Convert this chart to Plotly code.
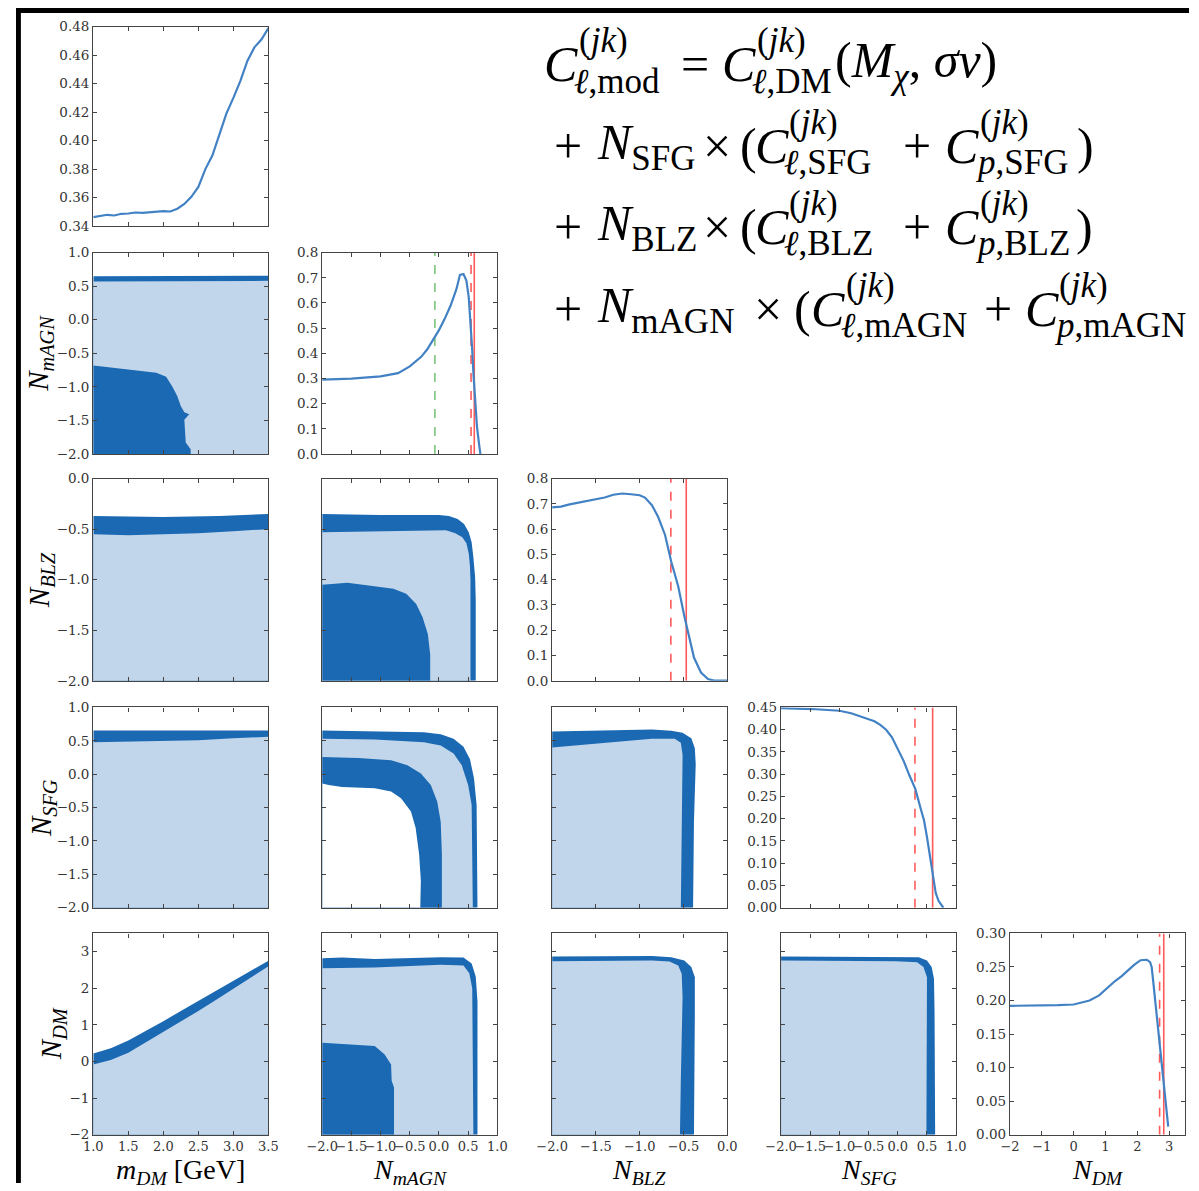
import plotly.graph_objects as go

W, H = 1199, 1191

# ---------------- 1D profile data ----------------
MDM_X = [1.0, 1.1, 1.2, 1.3, 1.4, 1.5, 1.6, 1.7, 1.8, 1.9, 2.0, 2.1, 2.2, 2.3, 2.4, 2.5,
         2.6, 2.7, 2.8, 2.9, 3.0, 3.1, 3.2, 3.3, 3.4, 3.5]
MDM_Y = [0.3463, 0.3470, 0.3479, 0.3474, 0.3486, 0.3488, 0.3495, 0.3492, 0.3497, 0.3500,
         0.3504, 0.3502, 0.3522, 0.3555, 0.3605, 0.3675, 0.3800, 0.3895, 0.4050, 0.4190,
         0.4300, 0.4420, 0.4560, 0.4655, 0.4710, 0.4790]

MAGN_X = [-2.0, -1.5, -1.0, -0.7, -0.5, -0.3, -0.2, -0.1, 0.0, 0.1, 0.2, 0.3, 0.36, 0.42,
          0.47, 0.51, 0.54, 0.57, 0.59, 0.62, 0.65, 0.69, 0.71]
MAGN_Y = [0.295, 0.299, 0.308, 0.321, 0.348, 0.387, 0.416, 0.452, 0.492, 0.538, 0.590,
          0.656, 0.712, 0.715, 0.689, 0.623, 0.531, 0.413, 0.321, 0.216, 0.111, 0.033, 0.0]
MAGN_GREEN = -0.07
MAGN_RED_DASH = 0.55
MAGN_RED = 0.605

BLZ_X = [-2.0, -1.9, -1.8, -1.7, -1.6, -1.5, -1.4, -1.3, -1.2, -1.1, -1.0, -0.94, -0.86,
         -0.79, -0.71, -0.64, -0.56, -0.49, -0.43, -0.38, -0.30, -0.22, -0.15, 0.0]
BLZ_Y = [0.686, 0.689, 0.698, 0.705, 0.712, 0.717, 0.725, 0.736, 0.741, 0.738, 0.734,
         0.725, 0.695, 0.649, 0.577, 0.472, 0.374, 0.256, 0.164, 0.092, 0.033, 0.007,
         0.001, 0.001]
BLZ_RED_DASH = -0.644
BLZ_RED = -0.468

SFG_X = [-2.0, -1.8, -1.6, -1.4, -1.2, -1.0, -0.8, -0.6, -0.4, -0.3, -0.2, -0.1, 0.0, 0.1,
         0.2, 0.3, 0.4, 0.45, 0.5, 0.55, 0.6, 0.65, 0.7, 0.75, 0.78]
SFG_Y = [0.4485, 0.4485, 0.447, 0.446, 0.4448, 0.4426, 0.437, 0.428, 0.419, 0.411, 0.400,
         0.383, 0.356, 0.330, 0.297, 0.267, 0.219, 0.196, 0.159, 0.115, 0.067, 0.033,
         0.015, 0.005, 0.0]
SFG_RED_DASH = 0.294
SFG_RED = 0.597

NDM_X = [-2.0, -1.0, -0.5, 0.0, 0.3, 0.5, 0.8, 1.0, 1.3, 1.5, 1.7, 1.9, 2.1, 2.3, 2.4,
         2.45, 2.5, 2.6, 2.7, 2.8, 2.9, 2.97]
NDM_Y = [0.192, 0.192, 0.193, 0.194, 0.197, 0.200, 0.2076, 0.2164, 0.229, 0.236, 0.2445,
         0.253, 0.260, 0.2607, 0.257, 0.250, 0.228, 0.182, 0.137, 0.091, 0.046, 0.012]
NDM_RED_DASH = 2.70
NDM_RED = 2.83

# ---------------- 2D credible-region boundaries ----------------
R1C0_TOP_X = [1.0, 2.0, 3.0, 3.5]
R1C0_TOP_Y = [0.65, 0.65, 0.655, 0.655]
R1C0_BOT_X = [1.0, 2.0, 3.0, 3.5]
R1C0_BOT_Y = [0.57, 0.57, 0.575, 0.58]
R1C0_CORE_X = [1.0, 1.15, 1.3, 1.45, 1.6, 1.75, 1.9, 2.04, 2.13, 2.2, 2.25, 2.3, 2.37,
               2.3, 2.31, 2.32, 2.39, 2.39]
R1C0_CORE_Y = [-0.68, -0.70, -0.71, -0.73, -0.76, -0.78, -0.79, -0.85, -1.0, -1.14,
               -1.29, -1.38, -1.41, -1.49, -1.68, -1.83, -1.93, -2.0]

R2C0_TOP_X = [1.0, 2.0, 2.8, 3.2, 3.5]
R2C0_TOP_Y = [-0.37, -0.38, -0.37, -0.36, -0.35]
R2C0_BOT_X = [1.0, 1.5, 2.0, 2.5, 3.0, 3.5]
R2C0_BOT_Y = [-0.55, -0.56, -0.55, -0.54, -0.52, -0.50]

R3C0_TOP_X = [1.0, 2.0, 3.0, 3.5]
R3C0_TOP_Y = [0.655, 0.655, 0.655, 0.655]
R3C0_BOT_X = [1.0, 1.5, 2.0, 2.5, 3.0, 3.5]
R3C0_BOT_Y = [0.48, 0.49, 0.49, 0.51, 0.54, 0.56]

R4C0_TOP_X = [1.0, 1.25, 1.5, 1.75, 2.0, 2.25, 2.5, 2.75, 3.0, 3.25, 3.5]
R4C0_TOP_Y = [0.22, 0.36, 0.57, 0.83, 1.10, 1.38, 1.66, 1.94, 2.22, 2.48, 2.75]
R4C0_BOT_X = [1.0, 1.25, 1.5, 1.75, 2.0, 2.25, 2.5, 2.75, 3.0, 3.25, 3.5]
R4C0_BOT_Y = [-0.08, 0.04, 0.24, 0.52, 0.82, 1.10, 1.38, 1.68, 1.98, 2.30, 2.60]

R2C1_OUT_X = [-2.0, -1.0, 0.0, 0.17, 0.32, 0.43, 0.51, 0.56, 0.59, 0.62, 0.63, 0.63]
R2C1_OUT_Y = [-0.35, -0.36, -0.36, -0.37, -0.40, -0.45, -0.53, -0.63, -0.78, -0.98, -1.2, -2.0]
R2C1_IN_X = [-2.0, -1.0, 0.12, 0.28, 0.40, 0.47, 0.51, 0.53, 0.54, 0.54]
R2C1_IN_Y = [-0.53, -0.52, -0.51, -0.54, -0.58, -0.64, -0.74, -0.86, -1.0, -2.0]
R2C1_CORE_X = [-2.0, -1.57, -1.17, -0.78, -0.56, -0.39, -0.28, -0.19, -0.15, -0.15]
R2C1_CORE_Y = [-1.05, -1.03, -1.06, -1.09, -1.14, -1.24, -1.37, -1.54, -1.74, -2.0]

R3C1_OUT_X = [-2.0, -1.1, -0.26, 0.03, 0.25, 0.42, 0.53, 0.60, 0.645, 0.66]
R3C1_OUT_Y = [0.654, 0.644, 0.63, 0.60, 0.53, 0.41, 0.23, -0.06, -0.46, -2.0]
R3C1_IN_X = [-2.0, -1.1, -0.26, 0.03, 0.25, 0.39, 0.50, 0.56, 0.58]
R3C1_IN_Y = [0.53, 0.52, 0.48, 0.43, 0.31, 0.135, -0.16, -0.46, -2.0]
R3C1_CORE_OUT_X = [-2.0, -1.38, -0.82, -0.54, -0.31, -0.14, -0.03, 0.03, 0.05, 0.05]
R3C1_CORE_OUT_Y = [0.26, 0.244, 0.21, 0.135, 0.01, -0.16, -0.41, -0.71, -1.2, -2.0]
R3C1_CORE_IN_X = [-2.0, -1.89, -1.66, -1.1, -0.82, -0.65, -0.48, -0.40, -0.34, -0.31, -0.32]
R3C1_CORE_IN_Y = [-0.14, -0.16, -0.19, -0.21, -0.26, -0.36, -0.56, -0.80, -1.2, -1.59, -2.0]

R4C1_OUT_X = [-2.0, -1.66, -1.1, -0.54, 0.03, 0.42, 0.56, 0.63, 0.66, 0.66]
R4C1_OUT_Y = [2.82, 2.84, 2.80, 2.82, 2.85, 2.84, 2.68, 2.32, 1.64, -2.0]
R4C1_IN_X = [-2.0, -1.1, 0.03, 0.42, 0.52, 0.57, 0.59]
R4C1_IN_Y = [2.55, 2.57, 2.64, 2.62, 2.41, 2.0, -2.0]
R4C1_CORE_X = [-2.0, -1.38, -1.1, -0.93, -0.82, -0.81, -0.77, -0.77]
R4C1_CORE_Y = [0.51, 0.46, 0.42, 0.19, -0.08, -0.53, -0.71, -2.0]

R3C2_OUT_X = [-2.0, -1.43, -0.86, -0.64, -0.51, -0.41, -0.37, -0.36, -0.38, -0.39]
R3C2_OUT_Y = [0.64, 0.66, 0.67, 0.65, 0.62, 0.54, 0.39, 0.15, -0.7, -2.0]
R3C2_IN_X = [-2.0, -1.43, -0.86, -0.60, -0.53, -0.51, -0.52, -0.53]
R3C2_IN_Y = [0.40, 0.47, 0.53, 0.53, 0.47, 0.29, -0.7, -2.0]

R4C2_OUT_X = [-2.0, -1.43, -0.86, -0.64, -0.49, -0.41, -0.37, -0.37, -0.38, -0.38]
R4C2_OUT_Y = [2.87, 2.88, 2.88, 2.85, 2.76, 2.58, 2.30, 1.31, -0.5, -2.0]
R4C2_IN_X = [-2.0, -0.86, -0.66, -0.56, -0.52, -0.51, -0.53, -0.54]
R4C2_IN_Y = [2.74, 2.76, 2.73, 2.62, 2.40, 1.76, -0.5, -2.0]

R4C3_OUT_X = [-2.0, -1.15, -0.03, 0.36, 0.50, 0.58, 0.62, 0.63, 0.64]
R4C3_OUT_Y = [2.87, 2.87, 2.85, 2.85, 2.76, 2.58, 2.26, 1.31, -2.0]
R4C3_IN_X = [-2.0, -1.15, -0.03, 0.33, 0.44, 0.50, 0.50, 0.49]
R4C3_IN_Y = [2.76, 2.76, 2.74, 2.71, 2.58, 2.30, 1.31, -2.0]

# ---------------- axes / ticks ----------------
PARAM_RANGES = [[1.0, 3.5], [-2.0, 1.0], [-2.0, 0.0], [-2.0, 1.0], [-2.0, 3.5]]
PARAM_TICKS = [
    [1.0, 1.5, 2.0, 2.5, 3.0, 3.5],
    [-2.0, -1.5, -1.0, -0.5, 0.0, 0.5, 1.0],
    [-2.0, -1.5, -1.0, -0.5, 0.0],
    [-2.0, -1.5, -1.0, -0.5, 0.0, 0.5, 1.0],
    [-2, -1, 0, 1, 2, 3],
]
PARAM_FMT = ["{:.1f}", "{:.1f}", "{:.1f}", "{:.1f}", "{:d}"]
DIAG_RANGES = [[0.34, 0.48], [0.0, 0.8], [0.0, 0.8], [0.0, 0.45], [0.0, 0.30]]
DIAG_TICKS = [
    [0.34, 0.36, 0.38, 0.40, 0.42, 0.44, 0.46, 0.48],
    [0.0, 0.1, 0.2, 0.3, 0.4, 0.5, 0.6, 0.7, 0.8],
    [0.0, 0.1, 0.2, 0.3, 0.4, 0.5, 0.6, 0.7, 0.8],
    [0.00, 0.05, 0.10, 0.15, 0.20, 0.25, 0.30, 0.35, 0.40, 0.45],
    [0.00, 0.05, 0.10, 0.15, 0.20, 0.25, 0.30],
]
DIAG_FMT = ["{:.2f}", "{:.1f}", "{:.1f}", "{:.2f}", "{:.2f}"]
X_TITLES = ["<i>m</i><sub><i>DM</i></sub> [GeV]", "<i>N</i><sub><i>mAGN</i></sub>",
            "<i>N</i><sub><i>BLZ</i></sub>", "<i>N</i><sub><i>SFG</i></sub>",
            "<i>N</i><sub><i>DM</i></sub>"]
Y_TITLES = [None, "<i>N</i><sub><i>mAGN</i></sub>", "<i>N</i><sub><i>BLZ</i></sub>",
            "<i>N</i><sub><i>SFG</i></sub>", "<i>N</i><sub><i>DM</i></sub>"]

# ---------------- styling ----------------
COLS_PX = [(79, 258), (313, 492), (548, 727), (782, 961), (1016, 1195)]
ROWS_PX = [(19, 221), (248, 452), (477, 682), (709, 912), (938, 1142)]
DARK = "#1b69b3"
LIGHT = "#c2d6eb"
LINE = "#4282c4"
RED = "rgba(255,60,60,0.85)"
GREEN = "rgba(100,185,100,0.85)"
FRAME = "#444444"
XTICKFONT = dict(family="DejaVu Serif", size=13, color="#333333")
YTICKFONT = dict(family="DejaVu Serif", size=13.5, color="#333333")
SERIF = "Liberation Serif"


def fmt(v, f):
    return f.format(v).replace("-", "\u2212")


fig = go.Figure()
layout = {}
axis_id = {}
k = 0
for r in range(5):
    for c in range(r + 1):
        k += 1
        axis_id[(r, c)] = k
        xa = dict(
            domain=[COLS_PX[c][0] / W, COLS_PX[c][1] / W],
            anchor="y%d" % k, range=PARAM_RANGES[c],
            tickmode="array", tickvals=PARAM_TICKS[c],
            ticktext=[fmt(v, PARAM_FMT[c]) for v in PARAM_TICKS[c]],
            showticklabels=(r == 4), tickangle=0,
            ticks="inside", ticklen=4, tickcolor=FRAME, tickwidth=1,
            showline=True, linecolor=FRAME, linewidth=1.3, mirror="ticks",
            showgrid=False, zeroline=False, tickfont=XTICKFONT,
        )
        if c == r:
            yr, yt, yf = DIAG_RANGES[r], DIAG_TICKS[r], DIAG_FMT[r]
        else:
            yr, yt, yf = PARAM_RANGES[r], PARAM_TICKS[r], PARAM_FMT[r]
        ya = dict(
            domain=[1 - ROWS_PX[r][1] / H, 1 - ROWS_PX[r][0] / H],
            anchor="x%d" % k, range=yr,
            tickmode="array", tickvals=yt,
            ticktext=[fmt(v, yf) for v in yt],
            showticklabels=(c == 0 or c == r),
            ticks="inside", ticklen=4, tickcolor=FRAME, tickwidth=1,
            showline=True, linecolor=FRAME, linewidth=1.3, mirror="ticks",
            showgrid=False, zeroline=False, tickfont=YTICKFONT,
        )
        layout["xaxis" if k == 1 else "xaxis%d" % k] = xa
        layout["yaxis" if k == 1 else "yaxis%d" % k] = ya


def ax(r, c):
    kk = axis_id[(r, c)]
    return ("x" if kk == 1 else "x%d" % kk), ("y" if kk == 1 else "y%d" % kk)


def region(r, c, xs, ys, color):
    xa, ya = ax(r, c)
    xmin = PARAM_RANGES[c][0]
    ymin = PARAM_RANGES[r][0]
    px = list(xs) + [xs[-1], xmin]
    py = list(ys) + [ymin, ymin]
    fig.add_trace(go.Scatter(x=px, y=py, mode="lines", fill="toself", fillcolor=color,
                             line=dict(width=0, color=color), hoverinfo="skip",
                             showlegend=False, xaxis=xa, yaxis=ya))


PANELS = {
    (1, 0): [(R1C0_TOP_X, R1C0_TOP_Y, DARK), (R1C0_BOT_X, R1C0_BOT_Y, LIGHT),
             (R1C0_CORE_X, R1C0_CORE_Y, DARK)],
    (2, 0): [(R2C0_TOP_X, R2C0_TOP_Y, DARK), (R2C0_BOT_X, R2C0_BOT_Y, LIGHT)],
    (3, 0): [(R3C0_TOP_X, R3C0_TOP_Y, DARK), (R3C0_BOT_X, R3C0_BOT_Y, LIGHT)],
    (4, 0): [(R4C0_TOP_X, R4C0_TOP_Y, DARK), (R4C0_BOT_X, R4C0_BOT_Y, LIGHT)],
    (2, 1): [(R2C1_OUT_X, R2C1_OUT_Y, DARK), (R2C1_IN_X, R2C1_IN_Y, LIGHT),
             (R2C1_CORE_X, R2C1_CORE_Y, DARK)],
    (3, 1): [(R3C1_OUT_X, R3C1_OUT_Y, DARK), (R3C1_IN_X, R3C1_IN_Y, LIGHT),
             (R3C1_CORE_OUT_X, R3C1_CORE_OUT_Y, DARK),
             (R3C1_CORE_IN_X, R3C1_CORE_IN_Y, "white")],
    (4, 1): [(R4C1_OUT_X, R4C1_OUT_Y, DARK), (R4C1_IN_X, R4C1_IN_Y, LIGHT),
             (R4C1_CORE_X, R4C1_CORE_Y, DARK)],
    (3, 2): [(R3C2_OUT_X, R3C2_OUT_Y, DARK), (R3C2_IN_X, R3C2_IN_Y, LIGHT)],
    (4, 2): [(R4C2_OUT_X, R4C2_OUT_Y, DARK), (R4C2_IN_X, R4C2_IN_Y, LIGHT)],
    (4, 3): [(R4C3_OUT_X, R4C3_OUT_Y, DARK), (R4C3_IN_X, R4C3_IN_Y, LIGHT)],
}
for (r, c), layers in PANELS.items():
    for xs, ys, col in layers:
        region(r, c, xs, ys, col)

DIAG = [
    (MDM_X, MDM_Y, []),
    (MAGN_X, MAGN_Y, [(MAGN_GREEN, GREEN, "dash"), (MAGN_RED_DASH, RED, "dash"),
                      (MAGN_RED, RED, "solid")]),
    (BLZ_X, BLZ_Y, [(BLZ_RED_DASH, RED, "dash"), (BLZ_RED, RED, "solid")]),
    (SFG_X, SFG_Y, [(SFG_RED_DASH, RED, "dash"), (SFG_RED, RED, "solid")]),
    (NDM_X, NDM_Y, [(NDM_RED_DASH, RED, "dash"), (NDM_RED, RED, "solid")]),
]
for i, (xs, ys, vlines) in enumerate(DIAG):
    xa, ya = ax(i, i)
    for v, col, dash in vlines:
        fig.add_trace(go.Scatter(x=[v, v], y=DIAG_RANGES[i], mode="lines",
                                 line=dict(color=col, width=1.6, dash=dash),
                                 showlegend=False, hoverinfo="skip", xaxis=xa, yaxis=ya))
    fig.add_trace(go.Scatter(x=xs, y=ys, mode="lines", line=dict(color=LINE, width=2.2),
                             showlegend=False, hoverinfo="skip", xaxis=xa, yaxis=ya))

anns = []


def ann(text, xpx, ypx, size, xanchor="left", angle=0):
    anns.append(dict(text=text, x=xpx / W, y=1 - ypx / H, xref="paper", yref="paper",
                     xanchor=xanchor, yanchor="middle", showarrow=False, textangle=angle,
                     font=dict(family=SERIF, size=size, color="black")))


X_TITLE_CX = [168, 403, 637, 872, 1106]
for c in range(5):
    ann(X_TITLES[c], X_TITLE_CX[c], 1179, 28, xanchor="center")
Y_TITLE_X = [None, 25, 25, 27, 38]
for r in range(1, 5):
    ann(Y_TITLES[r], Y_TITLE_X[r], (ROWS_PX[r][0] + ROWS_PX[r][1]) / 2, 29,
        xanchor="center", angle=-90)

BIG, SMALL = 50, 35


def cterm(x, yc, sub):
    ann("<i>C</i>", x, yc, BIG)
    ann("(<i>jk</i>)", x + 35, yc - 24, SMALL)
    ann(sub, x + 30, yc + 17, SMALL)


y1 = 57
cterm(538, y1, "<i>ℓ</i>,mod")
ann("=", 678, y1, BIG)
cterm(720, y1, "<i>ℓ</i>,DM")
ann("(<i>M</i><sub><i>χ</i></sub>, <i>σv</i>)", 835, y1, BIG)

for yc, name, close_x in [(140, "SFG", 1082), (222, "BLZ", 1081)]:
    ann("+", 548, yc, BIG)
    ann("<i>N</i><sub>%s</sub>" % name, 592, yc, BIG)
    ann("×", 700, yc, BIG)
    ann("(", 738, yc, BIG)
    cterm(753, yc, "<i>ℓ</i>,%s" % name)
    ann("+", 905, yc, BIG)
    cterm(948, yc, "<i>p</i>,%s" % name)
    ann(")", close_x, yc, BIG)

y4 = 305
ann("+", 548, y4, BIG)
ann("<i>N</i><sub>mAGN</sub>", 592, y4, BIG)
ann("×", 752, y4, BIG)
ann("(", 793, y4, BIG)
cterm(811, y4, "<i>ℓ</i>,mAGN")
ann("+", 987, y4, BIG)
cterm(1029, y4, "<i>p</i>,mAGN")

shapes = [
    dict(type="rect", xref="paper", yref="paper", x0=0, x1=1, y0=1 - 5 / H, y1=1,
         fillcolor="black", line=dict(width=0), layer="above"),
    dict(type="rect", xref="paper", yref="paper", x0=0, x1=5 / W, y0=0, y1=1,
         fillcolor="black", line=dict(width=0), layer="above"),
]

fig.update_layout(width=W, height=H, margin=dict(l=0, r=0, t=0, b=0, pad=0),
                  paper_bgcolor="white", plot_bgcolor="white", showlegend=False,
                  annotations=anns, shapes=shapes, **layout)
fig.write_html("out.html")
